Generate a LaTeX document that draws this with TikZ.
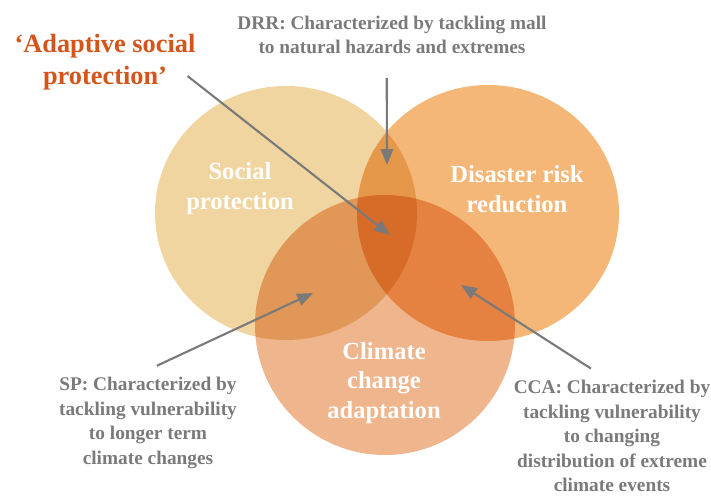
\documentclass[tikz,border=0pt]{standalone}
\usepackage{fontspec}
\setmainfont{Liberation Serif}
\usetikzlibrary{arrows.meta}

\definecolor{spfill}{HTML}{F0D5A0}
\definecolor{drrfill}{HTML}{F5B777}
\definecolor{ccafill}{HTML}{EFB58C}
\definecolor{notegray}{HTML}{7A7A7A}
\definecolor{aspred}{HTML}{D4541B}

\tikzset{
  note/.style={align=center,text=notegray,font=\bfseries\fontsize{11}{14}\selectfont},
  title/.style={align=center,text=white,font=\bfseries\fontsize{14}{17}\selectfont},
  pointer/.style={draw=notegray,line width=1.2pt,-{Triangle[length=9pt,width=7pt]}}
}

\begin{document}
\begin{tikzpicture}[x=0.02cm,y=-0.02cm]
  \useasboundingbox (0,0) rectangle (711,497);

  % three circles, colours multiplied where they overlap
  \begin{scope}[blend group=multiply]
    \fill[spfill] (286,213) ellipse (131 and 127);
    \fill[drrfill] (488,213) ellipse (131 and 128);
    \fill[ccafill] (385,325) ellipse (130 and 130);
  \end{scope}

  % names inside the circles
  \node[title] (spname) at (240,189) {Social\\protection};
  \node[title] (drrname) at (517,189) {Disaster risk\\reduction};
  \node[title] (ccaname) at (384,383) {Climate\\change\\adaptation};

  % notes round the diagram
  \node[note] (drr) at (392,35) {DRR: Characterized by tackling mall\\to natural hazards and extremes};
  \node[text=aspred,align=center,font=\bfseries\fontsize{15}{18}\selectfont] (asp) at (105,62) {‘Adaptive social\\protection’};
  \node[note] (sp) at (148,423) {SP: Characterized by\\tackling vulnerability\\to longer term\\climate changes};
  \node[note] (cca) at (612,436) {CCA: Characterized by\\tackling vulnerability\\to changing\\distribution of extreme\\climate events};

  % arrow tips
  \coordinate (drrtip) at (387,165);
  \coordinate (asptip) at (390,235);
  \coordinate (sptip) at (313,293);
  \coordinate (ccatip) at (461,285);

  \draw[pointer] ([xshift=-3pt,yshift=-10pt]drr.south) -- (drrtip);
  \draw[pointer] ([xshift=-8pt,yshift=-8pt]asp.east) -- (asptip);
  \draw[pointer] ([xshift=5pt,yshift=3pt]sp.north) -- (sptip);
  \draw[pointer] ([xshift=-12pt,yshift=3pt]cca.north) -- (ccatip);
\end{tikzpicture}
\end{document}
